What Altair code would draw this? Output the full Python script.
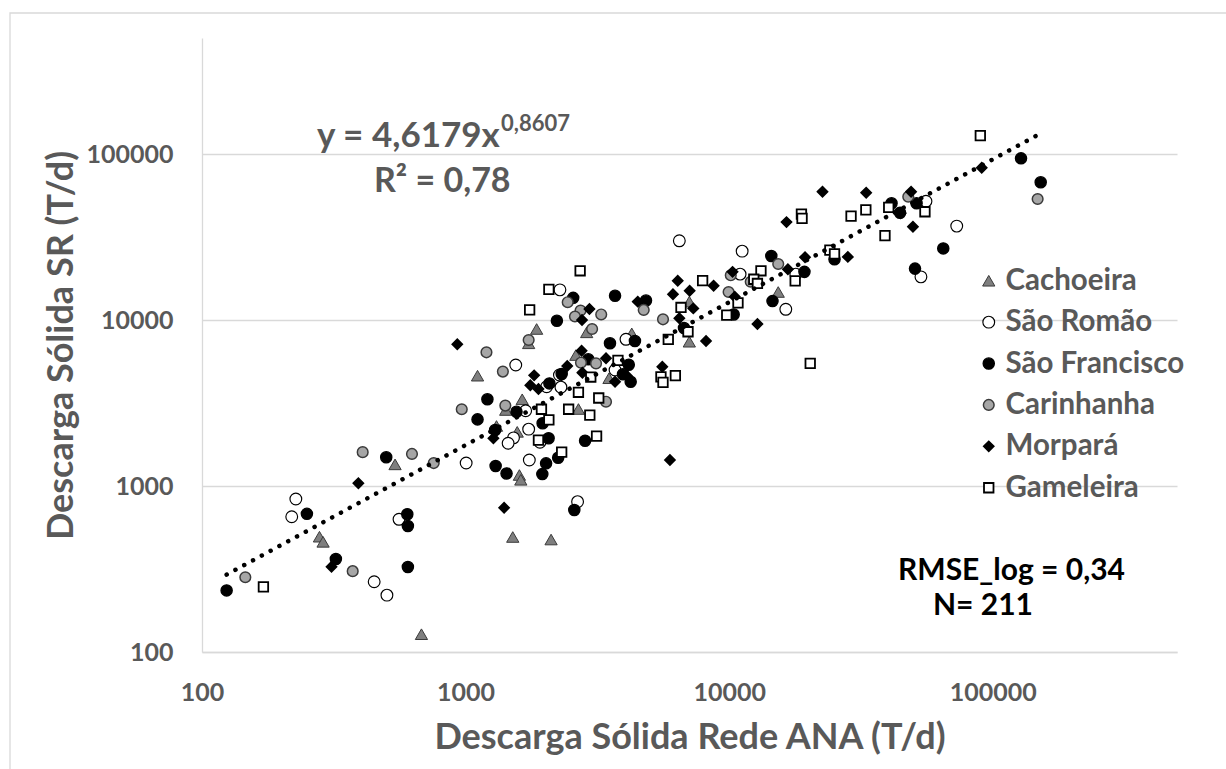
import altair as alt
import pandas as pd

# ---------------- data ----------------
stations = ["Cachoeira", "São Romão", "São Francisco", "Carinhanha", "Morpará", "Gameleira"]

cach_x = [540, 279, 288, 680, 7060, 1860, 2880, 7060, 1735, 4270, 2620, 1110, 3500, 1640, 1420,
          2680, 1310, 1570, 1600, 1620, 1510, 2110, 15350]
cach_y = [1350, 495, 461, 128, 12900, 8830, 8430, 7400, 7240, 8310, 6150, 4620, 4460, 3330, 2870,
          2910, 2300, 2120, 1165, 1090, 493, 476, 14750]

srom_x = [1005, 227, 219, 450, 503, 559, 6470, 2280, 4060, 1550, 2270, 3690, 2030, 2300, 1690,
          1735, 1520, 1450, 1915, 1745, 2660, 11200, 17900, 11000, 16400, 55800, 73000, 53400]
srom_y = [1375, 835, 653, 265, 220, 630, 30000, 15200, 7650, 5360, 4660, 5000, 3960, 3940, 2840,
          2200, 1950, 1810, 1835, 1435, 805, 26000, 18900, 18900, 11600, 51900, 36800, 18200]

sfra_x = [1110, 500, 250, 322, 601, 604, 604, 124, 2560, 3690, 4835, 2220, 3530, 4390, 2920,
          4160, 2315, 3955, 4230, 2080, 1210, 1560, 1295, 1960, 2065, 2840, 1300, 1430, 2020,
          1955, 2245, 2585, 41300, 44500, 14450, 25100, 19300, 14600, 10400, 6740, 128000,
          152000, 51400, 64900, 50700]
sfra_y = [2520, 1490, 680, 363, 676, 574, 325, 235, 13600, 14000, 13100, 9900, 7240, 7470, 5800,
          5380, 4730, 4710, 4250, 4150, 3330, 2800, 2175, 2390, 1940, 1875, 1320, 1190, 1370,
          1180, 1480, 717, 50500, 44300, 24300, 23200, 19500, 13000, 10800, 8950, 94200,
          67600, 50500, 27000, 20400]

cari_x = [967, 407, 626, 757, 373, 146, 2440, 4740, 2730, 2600, 3270, 5610, 3020, 1735, 1200,
          2740, 3125, 1385, 3410, 1415, 15350, 10140, 12070, 9950, 47800, 148000]
cari_y = [2900, 1600, 1560, 1375, 307, 282, 12800, 11500, 11400, 10500, 10800, 10100, 8830, 7580,
          6390, 5530, 5480, 4890, 3220, 3050, 21750, 18600, 17000, 14750, 55300, 53600]

morp_x = [392, 310, 6380, 7080, 6120, 4500, 7310, 2950, 2765, 6470, 930, 2755, 3410, 2430, 1820,
          2775, 3690, 4090, 5575, 1760, 1890, 1275, 5960, 1400, 16500, 19400, 28200, 16700,
          10300, 8730, 10500, 12800, 8170, 22600, 33100, 49000, 44700, 49800, 90800]
morp_y = [1040, 326, 17250, 15000, 14300, 12900, 11750, 11650, 10000, 10240, 7140, 6530, 5880,
          5280, 4640, 4815, 4250, 4620, 5230, 4045, 3840, 1940, 1435, 740, 38900, 23900, 24000,
          20200, 19500, 16100, 13800, 9460, 7470, 59300, 58500, 59300, 44000, 36500, 82700]

game_x = [171, 2720, 2070, 1750, 6565, 6980, 5875, 3785, 2985, 5510, 5610, 6250, 2680, 3200,
          1940, 2460, 2960, 2070, 1890, 3140, 2315, 40300, 18800, 18900, 29000, 33000, 39000,
          24100, 25100, 17800, 13200, 12400, 12800, 7930, 10800, 9790, 20300, 89700, 55300]
game_y = [247, 19800, 15300, 11500, 11900, 8500, 7650, 5720, 4535, 4550, 4215, 4620, 3670, 3390,
          2900, 2900, 2670, 2500, 1890, 2000, 1600, 47700, 43500, 41000, 42300, 46100, 32200,
          26400, 25000, 17200, 19800, 17600, 16600, 17250, 12700, 10700, 5480, 129000, 44900]

tick_values = [100, 1000, 10000, 100000]
axis_domain = [100, 500000]

trend_coef = 4.6179
trend_exp = 0.8607

eq_main = "y = 4,6179x"
eq_sup = "0,8607"
eq_r2 = "R² = 0,78"
rmse_text = "RMSE_log = 0,34"
n_text = "N= 211"
x_title = "Descarga Sólida Rede ANA (T/d)"
y_title = "Descarga Sólida SR (T/d)"

# ---------------- styles ----------------
shapes = ["triangle-up", "circle", "circle", "circle", "diamond", "square"]
fills = ["#7f7f7f", "#ffffff", "#000000", "#a6a6a6", "#000000", "#ffffff"]
strokes = ["#3a3a3a", "#000000", "#000000", "#3a3a3a", "#000000", "#000000"]
sizes = [150, 90, 88, 88, 150, 72]
stroke_widths = [1.0, 1.8, 1.0, 1.0, 1.0, 2.0]

FONT = "Lato"
GREY = "#595959"
LIGHT = "#d9d9d9"

all_x = [cach_x, srom_x, sfra_x, cari_x, morp_x, game_x]
all_y = [cach_y, srom_y, sfra_y, cari_y, morp_y, game_y]
rows = []
for s, xs, ys in zip(stations, all_x, all_y):
    for a, b in zip(xs, ys):
        rows.append({"Estação": s, "x": a, "y": b})
df = pd.DataFrame(rows)

xmin, xmax = df["x"].min(), df["x"].max()
trend_df = pd.DataFrame({"x": [xmin, xmax],
                         "y": [trend_coef * xmin ** trend_exp, trend_coef * xmax ** trend_exp]})

xscale = alt.Scale(type="log", domain=axis_domain, nice=False)
yscale = alt.Scale(type="log", domain=axis_domain, nice=False)

x_axis = alt.Axis(values=tick_values, format="d", grid=False, ticks=False, tickSize=0,
                  domainColor=LIGHT, domainWidth=1.3, labelFont=FONT, labelFontSize=25,
                  labelFontWeight="bold", labelColor=GREY, labelPadding=28, labelFlush=False,
                  title=x_title, titleFont=FONT, titleFontSize=36, titleFontWeight="bold",
                  titleColor=GREY, titleY=96, titleBaseline="alphabetic")
y_axis = alt.Axis(values=tick_values, format="d", grid=True, gridColor=LIGHT, gridWidth=1.3,
                  ticks=False, tickSize=0, domainColor=LIGHT, domainWidth=1.3, labelFont=FONT,
                  labelFontSize=25, labelFontWeight="bold", labelColor=GREY, labelPadding=29,
                  title=y_title, titleFont=FONT, titleFontSize=36, titleFontWeight="bold",
                  titleColor=GREY, titleX=-130, titleY=307, titleAngle=270,
                  titleBaseline="alphabetic")

legend = alt.Legend(title=None, orient="none", legendX=772, legendY=228, padding=0,
                    labelFont=FONT, labelFontSize=29.5, labelFontWeight="bold", labelColor=GREY,
                    labelLimit=400, symbolStrokeWidth=1.3, rowPadding=10.4, labelOffset=2)

points = alt.Chart(df).mark_point(filled=True, opacity=1).encode(
    x=alt.X("x:Q", scale=xscale, axis=x_axis),
    y=alt.Y("y:Q", scale=yscale, axis=y_axis),
    shape=alt.Shape("Estação:N", scale=alt.Scale(domain=stations, range=shapes), legend=legend),
    fill=alt.Fill("Estação:N", scale=alt.Scale(domain=stations, range=fills), legend=legend),
    stroke=alt.Stroke("Estação:N", scale=alt.Scale(domain=stations, range=strokes), legend=legend),
    size=alt.Size("Estação:N", scale=alt.Scale(domain=stations, range=sizes), legend=legend),
    strokeWidth=alt.StrokeWidth("Estação:N", scale=alt.Scale(domain=stations, range=stroke_widths),
                                legend=legend),
)

trend = alt.Chart(trend_df).mark_line(color="black", strokeWidth=4.5, strokeDash=[0.1, 9.9],
                                      strokeCap="round").encode(
    x=alt.X("x:Q", scale=xscale),
    y=alt.Y("y:Q", scale=yscale),
)

border = alt.Chart(pd.DataFrame({"a": [0]})).mark_rect(fillOpacity=0, stroke=LIGHT,
                                                       strokeWidth=1.3).encode(
    x=alt.value(-192), x2=alt.value(1040), y=alt.value(-25), y2=alt.value(760))


def label(text, x, y, size, color):
    return alt.Chart(pd.DataFrame({"t": [text]})).mark_text(
        align="left", baseline="alphabetic", font=FONT, fontWeight="bold",
        fontSize=size, color=color).encode(text="t:N", x=alt.value(x), y=alt.value(y))


texts = [
    label(eq_main, 115, 109, 35, GREY),
    label(eq_sup, 299, 93, 22, GREY),
    label(eq_r2, 172, 154, 34, GREY),
    label(rmse_text, 696, 542, 30, "#000000"),
    label(n_text, 731, 577, 30, "#000000"),
]

chart = alt.layer(border, points, trend, *texts).properties(
    width=975, height=614,
    autosize=alt.AutoSizeParams(type="none"),
    padding={"left": 202, "top": 38, "right": 49, "bottom": 117},
    background="white",
).configure_view(strokeWidth=0)

chart.save("out.html", embed_options={"renderer": "svg", "actions": False})
